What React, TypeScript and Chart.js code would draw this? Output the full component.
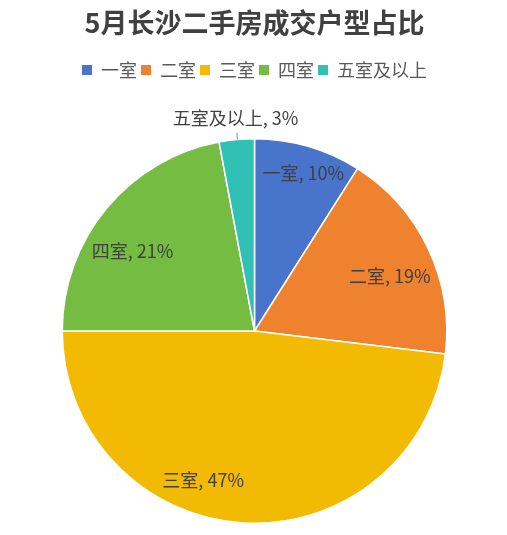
import { useEffect, useRef } from "react";
import { Chart, registerables } from "chart.js";

Chart.register(...registerables);

const TITLE = "5月长沙二手房成交户型占比";
const categories = ["一室", "二室", "三室", "四室", "五室及以上"];
const shares = [9.0, 17.9, 48.1, 22.05, 2.95];
// percentage texts printed on the chart
const percentLabels = ["10%", "19%", "47%", "21%", "3%"];
const colors = ["#4874CB", "#EE822F", "#F2BA02", "#75BD42", "#30C0B4"];

const FONT = "'Noto Sans CJK SC', 'Microsoft YaHei', sans-serif";

// label placement relative to each arc: fraction of its angular span, radial fraction
const LABEL_T = [0.53, 0.55, 0.59, 0.42, 0.52];
const LABEL_R = [0.86, 0.76, 0.82, 0.76, 1.11];
const LEGEND_EXTRA = 49;

const legendSpacer = {
  id: "legendSpacer",
  beforeUpdate(chart: any) {
    const lg = chart.legend;
    if (lg && !lg.__patched) {
      const orig = lg.fit;
      lg.fit = function () {
        orig.call(this);
        this.height += LEGEND_EXTRA;
      };
      lg.__patched = true;
    }
  },
};

const sliceLabels = {
  id: "sliceLabels",
  afterDatasetsDraw(chart: any) {
    const meta = chart.getDatasetMeta(0);
    const ctx = chart.ctx;
    ctx.save();
    ctx.font = `18px ${FONT}`;
    ctx.fillStyle = "#404040";
    ctx.textAlign = "center";
    ctx.textBaseline = "middle";
    meta.data.forEach((arc: any, i: number) => {
      const { x, y, startAngle, endAngle, outerRadius } = arc.getProps(
        ["x", "y", "startAngle", "endAngle", "outerRadius"],
        true
      );
      const a = startAngle + (endAngle - startAngle) * LABEL_T[i];
      const r = outerRadius * LABEL_R[i];
      if (LABEL_R[i] > 1) {
        ctx.beginPath();
        ctx.strokeStyle = "#8c8c8c";
        ctx.lineWidth = 1;
        ctx.moveTo(x + Math.cos(a) * outerRadius, y + Math.sin(a) * outerRadius);
        ctx.lineTo(x + Math.cos(a) * outerRadius * 1.035, y + Math.sin(a) * outerRadius * 1.035);
        ctx.stroke();
      }
      ctx.fillText(
        `${categories[i]}, ${percentLabels[i]}`,
        x + Math.cos(a) * r,
        y + Math.sin(a) * r
      );
    });
    ctx.restore();
  },
};

export default function App() {
  const ref = useRef<HTMLCanvasElement>(null);
  useEffect(() => {
    document.body.style.margin = "0";
    const chart = new Chart(ref.current!, {
      type: "pie",
      data: {
        labels: categories,
        datasets: [
          {
            data: shares,
            backgroundColor: colors,
            borderColor: "#ffffff",
            borderWidth: 1.5,
          },
        ],
      },
      options: {
        responsive: false,
        animation: false,
        devicePixelRatio: 1,
        layout: { padding: { left: 2, right: 0, top: 0, bottom: 11 } },
        plugins: {
          tooltip: { enabled: false },
          title: {
            display: true,
            text: TITLE,
            color: "#404040",
            font: { family: FONT, size: 27, weight: "bold" },
            padding: { top: 7, bottom: 17.6 },
          },
          legend: {
            position: "top",
            labels: {
              boxWidth: 10,
              boxHeight: 10,
              padding: 4,
              color: "#595959",
              font: { family: FONT, size: 18 },
              generateLabels: (c: any) =>
                Chart.overrides.pie.plugins.legend.labels
                  .generateLabels(c)
                  .map((l: any) => ({ ...l, lineWidth: 0, strokeStyle: l.fillStyle })),
            },
          },
        },
      },
      plugins: [legendSpacer, sliceLabels],
    });
    return () => chart.destroy();
  }, []);
  return (
    <div style={{ width: 507, height: 535, background: "#fff" }}>
      <canvas ref={ref} width={507} height={535} />
    </div>
  );
}
